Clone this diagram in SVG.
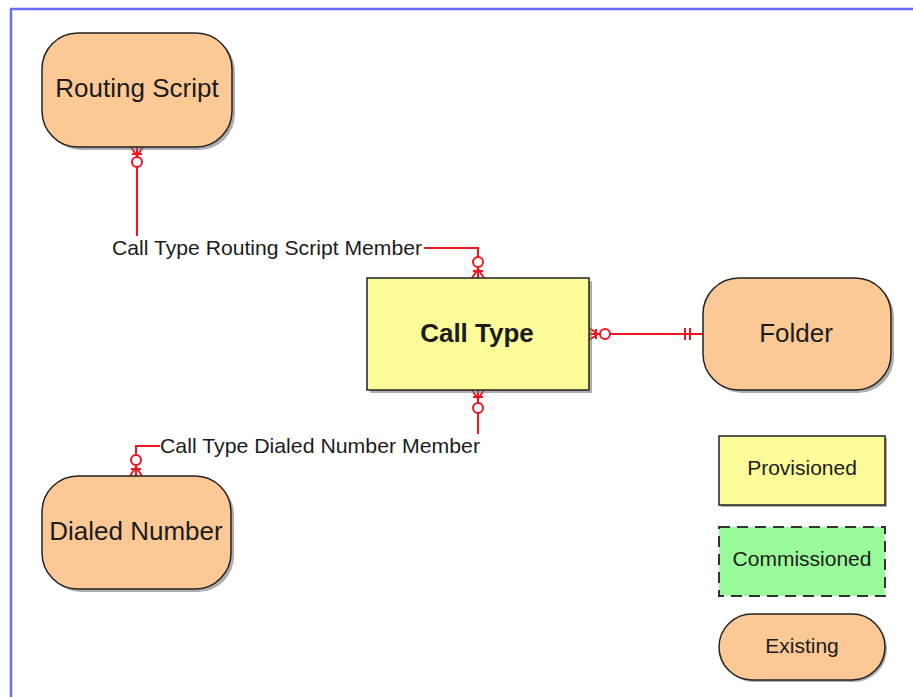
<svg xmlns="http://www.w3.org/2000/svg" width="913" height="697" viewBox="0 0 913 697">
<style>
.lbl{font-family:"Liberation Sans",Arial,sans-serif;fill:#1c1c1c;text-anchor:middle}
.node{font-size:26px}
.leg{font-size:21px}
.conn{font-family:"Liberation Sans",Arial,sans-serif;fill:#1c1c1c;font-size:21px}
.ent{fill:#fbc896;stroke:#222;stroke-width:1.5}
.prov{fill:#fbfb9a;stroke:#222;stroke-width:1.5}
.comm{fill:#99fb99;stroke:#333;stroke-width:2;stroke-dasharray:11,7}
.shadow{fill:#777;opacity:0.6}
.ln{fill:none;stroke:#f0141e;stroke-width:2}
.circ{fill:#fff;stroke:#f0141e;stroke-width:2}
</style>
<rect x="0" y="0" width="913" height="697" fill="#fff"/>
<path d="M11,697 V9 H913" fill="none" stroke="#6a6aff" stroke-width="2.5"/>

<g id="connectors">
  <path class="ln" d="M137,147 V236"/>
  <path class="ln" d="M131,147 L137,156 L143,147 M132,154 H142"/>
  <circle class="circ" cx="137" cy="162" r="5"/>
  <path class="ln" d="M424,248 H478 V278"/>
  <path class="ln" d="M472,278 L478,269 L484,278 M473,271 H483"/>
  <circle class="circ" cx="478" cy="262" r="5"/>
  <text class="conn" x="112" y="255" textLength="310" lengthAdjust="spacingAndGlyphs">Call Type Routing Script Member</text>

  <path class="ln" d="M478,390 V434"/>
  <path class="ln" d="M472,390 L478,399 L484,390 M473,397 H483"/>
  <circle class="circ" cx="478" cy="408" r="5"/>
  <path class="ln" d="M160,446 H136 V476"/>
  <path class="ln" d="M130,476 L136,467 L142,476 M131,469 H141"/>
  <circle class="circ" cx="136" cy="460" r="5"/>
  <text class="conn" x="160" y="453" textLength="320" lengthAdjust="spacingAndGlyphs">Call Type Dialed Number Member</text>

  <path class="ln" d="M589,334 H703"/>
  <path class="ln" d="M589,328 L598,334 L589,340 M596,329 V339"/>
  <circle class="circ" cx="605" cy="334" r="5"/>
  <path class="ln" d="M685,328 V340 M690,328 V340"/>
</g>

<g id="routing-script">
  <rect class="shadow" x="45" y="36" width="190" height="114" rx="36"/>
  <rect class="ent" x="42" y="33" width="190" height="114" rx="36"/>
  <text class="lbl node" x="137" y="97">Routing Script</text>
</g>

<g id="call-type">
  <rect class="shadow" x="370" y="281" width="222" height="112"/>
  <rect class="prov" x="367" y="278" width="222" height="112"/>
  <text class="lbl node" x="477" y="342" font-weight="bold">Call Type</text>
</g>

<g id="folder">
  <rect class="shadow" x="706" y="281" width="188" height="112" rx="36"/>
  <rect class="ent" x="703" y="278" width="188" height="112" rx="36"/>
  <text class="lbl node" x="796" y="342">Folder</text>
</g>

<g id="dialed-number">
  <rect class="shadow" x="45" y="479" width="189" height="113" rx="36"/>
  <rect class="ent" x="42" y="476" width="189" height="113" rx="36"/>
  <text class="lbl node" x="136" y="540">Dialed Number</text>
</g>

<g id="legend-provisioned">
  <rect class="shadow" x="721" y="438" width="166" height="69"/>
  <rect class="prov" x="719" y="436" width="166" height="69"/>
  <text class="lbl leg" x="802" y="475">Provisioned</text>
</g>

<g id="legend-commissioned">
  <rect class="comm" x="719" y="527" width="166" height="69"/>
  <text class="lbl leg" x="802" y="566">Commissioned</text>
</g>

<g id="legend-existing">
  <rect class="shadow" x="721" y="616" width="166" height="66" rx="33"/>
  <rect class="ent" x="719" y="614" width="166" height="66" rx="33"/>
  <text class="lbl leg" x="802" y="653">Existing</text>
</g>
</svg>
